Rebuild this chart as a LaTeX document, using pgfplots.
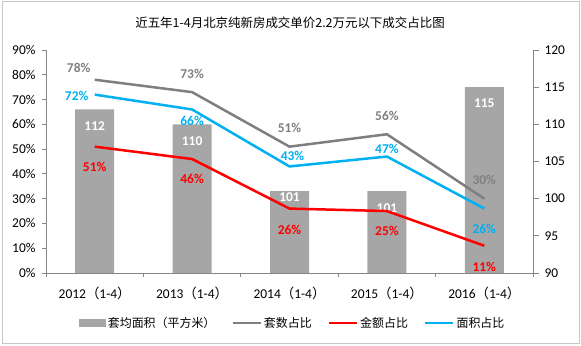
\documentclass[border=0pt]{standalone}
\usepackage{pgfplots}
\pgfplotsset{compat=1.18}
\usepackage{fontspec}
\setmainfont{Carlito}
\newfontfamily\cjk{Noto Sans CJK SC}
\definecolor{barg}{HTML}{A6A6A6}
\definecolor{lineg}{HTML}{7F7F7F}
\definecolor{lred}{HTML}{FF0000}
\definecolor{lblue}{HTML}{00B0F0}
\definecolor{axg}{HTML}{868686}
\begin{document}
\begin{tikzpicture}[x=1bp,y=1bp]
\useasboundingbox (0,0) rectangle (581,345);
\draw[draw=gray!45, line width=0.8bp] (2,1.5) rectangle (579,343.5);
\node[font=\cjk\fontsize{12.5}{14}\selectfont] at (290,322) {近五年1-4月北京纯新房成交单价2.2万元以下成交占比图};
% bars on right axis
\begin{axis}[
  at={(46bp,72bp)}, anchor=south west, scale only axis,
  width=487bp, height=223bp,
  xmin=-0.5, xmax=4.5, ymin=90, ymax=120,
  axis x line=none, axis y line*=right,
  ytick={90,95,...,120},
  y axis line style={draw=axg, line width=0.8bp},
  ytick style={draw=axg, line width=0.8bp},
  tick align=outside, major tick length=6bp,
  yticklabel style={font=\fontsize{13.5}{15}\selectfont, xshift=2bp},
  /pgf/number format/assume math mode=true,
  clip=false,
]
\addplot[ybar, bar width=39bp, fill=barg, draw=none,
  visualization depends on={\thisrow{dy} \as \dy},
  nodes near coords,
  every node near coord/.append style={anchor=center, yshift=\dy bp, text=white, font=\bfseries\fontsize{13.5}{15}\selectfont}]
  table {
x y dy
0 112 -17
1 110 -17
2 101 -6
3 101 -17
4 115 -16
};
\end{axis}
% lines on left axis
\begin{axis}[
  at={(46bp,72bp)}, anchor=south west, scale only axis,
  width=487bp, height=223bp,
  xmin=-0.5, xmax=4.5, ymin=0, ymax=90,
  axis x line*=bottom, axis y line*=left,
  ytick={0,10,...,90},
  yticklabel={\pgfmathprintnumber{\tick}\%},
  xtick={-0.5,0.5,1.5,2.5,3.5,4.5},
  xticklabels={2012{\cjk （}1-4{\cjk ）},2013{\cjk （}1-4{\cjk ）},2014{\cjk （}1-4{\cjk ）},2015{\cjk （}1-4{\cjk ）},2016{\cjk （}1-4{\cjk ）},{}},
  xticklabel style={xshift=48.7bp, yshift=-6bp, font=\fontsize{13.5}{15}\selectfont},
  yticklabel style={font=\fontsize{13.5}{15}\selectfont, xshift=-3bp},
  axis line style={draw=axg, line width=0.8bp},
  tick style={draw=axg, line width=0.8bp},
  tick align=outside, major tick length=4bp,
  /pgf/number format/assume math mode=true,
  clip=false,
  legend style={at={(0.507,-0.224)}, anchor=center, draw=none, fill=none,
    legend columns=4, font=\cjk\fontsize{12}{14}\selectfont,
    /tikz/every even column/.append style={column sep=14bp}},
  legend cell align=left,
]
\addlegendimage{legend image code/.code={\fill[barg] (0bp,-3.5bp) rectangle (26bp,3.5bp);}}
\addlegendentry{套均面积（平方米）}
\addlegendimage{legend image code/.code={\draw[lineg, line width=2.5bp] (0bp,0bp) -- (28bp,0bp);}}
\addlegendentry{套数占比}
\addlegendimage{legend image code/.code={\draw[lred, line width=2.5bp] (0bp,0bp) -- (28bp,0bp);}}
\addlegendentry{金额占比}
\addlegendimage{legend image code/.code={\draw[lblue, line width=2.5bp] (0bp,0bp) -- (28bp,0bp);}}
\addlegendentry{面积占比}
\addplot[lineg, line width=2.5bp, no markers,
  visualization depends on={\thisrow{dx} \as \dx},
  visualization depends on={\thisrow{dy} \as \dy},
  nodes near coords={\pgfmathprintnumber{\pgfplotspointmeta}\%},
  every node near coord/.append style={anchor=center, xshift=\dx bp, yshift=\dy bp, text=lineg, font=\bfseries\fontsize{13.5}{15}\selectfont}]
  table {
x y dx dy
0 78 -16 12
1 73 0 18
2 51 0 19
3 56 0 18
4 30 0 19
};
\addplot[lred, line width=2.5bp, no markers,
  visualization depends on={\thisrow{dx} \as \dx},
  visualization depends on={\thisrow{dy} \as \dy},
  nodes near coords={\pgfmathprintnumber{\pgfplotspointmeta}\%},
  every node near coord/.append style={anchor=center, xshift=\dx bp, yshift=\dy bp, text=lred, font=\bfseries\fontsize{13.5}{15}\selectfont}]
  table {
x y dx dy
0 51 0 -20
1 46 0 -20
2 26 0 -21
3 25 0 -20
4 11 0 -21
};
\addplot[lblue, line width=2.5bp, no markers,
  visualization depends on={\thisrow{dx} \as \dx},
  visualization depends on={\thisrow{dy} \as \dy},
  nodes near coords={\pgfmathprintnumber{\pgfplotspointmeta}\%},
  every node near coord/.append style={anchor=center, xshift=\dx bp, yshift=\dy bp, text=lblue, font=\bfseries\fontsize{13.5}{15}\selectfont}]
  table {
x y dx dy
0 72 -18 -1
1 66 0 -11
2 43 3 11
3 47 0 8
4 26 0 -20
};
\end{axis}
\end{tikzpicture}
\end{document}
